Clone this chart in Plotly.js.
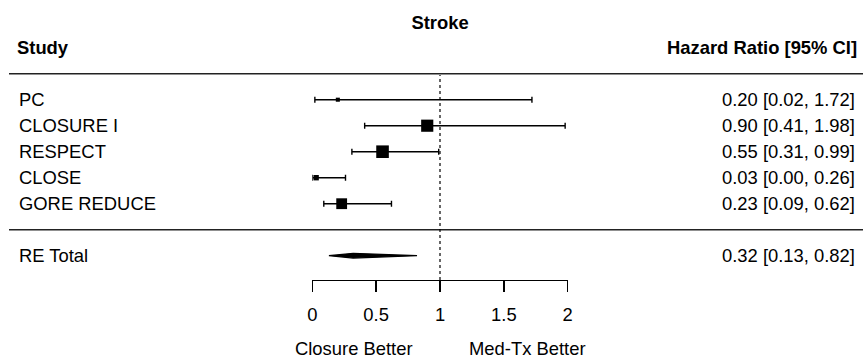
<!DOCTYPE html>
<html>
<head>
<meta charset="utf-8">
<script src="https://cdn.plot.ly/plotly-3.0.1.min.js"></script>
<style>html,body{margin:0;padding:0;background:#fff;}#chart{width:863px;height:359px;}</style>
</head>
<body>
<div id="chart"></div>
<script>
// ---- data ----
const chartTitle = 'Stroke';
const studies = ['PC', 'CLOSURE I', 'RESPECT', 'CLOSE', 'GORE REDUCE'];
const hr = [0.20, 0.90, 0.55, 0.03, 0.23];
const lower = [0.02, 0.41, 0.31, 0.00, 0.09];
const upper = [1.72, 1.98, 0.99, 0.26, 0.62];
const boxWeight = [9, 27, 28, 12, 24];
const totalLabel = 'RE Total';
const totalHR = [0.32];
const totalLower = [0.13];
const totalUpper = [0.82];
const tickVals = [0, 0.5, 1, 1.5, 2];
const tickText = ['0', '0.5', '1', '1.5', '2'];
const leftHeader = 'Study';
const rightHeader = 'Hazard Ratio [95% CI]';
const leftFavour = 'Closure Better';
const rightFavour = 'Med-Tx Better';

// ---- layout helpers ----
const W = 863, H = 359;
const FONT = 'Liberation Sans, Arial, Helvetica, sans-serif';
const FS = 18.4;
const px = p => p / W;
const py = p => 1 - p / H;
const rowPx = 26, firstRowPx = 99.7, n = studies.length;
const yTop = n + firstRowPx / rowPx;
const yBot = n - (H - firstRowPx) / rowPx;
const ys = studies.map((s, i) => n - i);
const yTotal = -1;
const fmt = v => v.toFixed(2);

const traces = [
  {
    type: 'scatter', mode: 'markers', x: hr, y: ys,
    cliponaxis: false, hoverinfo: 'skip',
    marker: { symbol: 'square', color: '#000', opacity: 1, size: boxWeight.map(w => w * 0.45), line: { width: 0 } },
    error_x: {
      type: 'data', symmetric: false,
      array: hr.map((v, i) => upper[i] - v),
      arrayminus: hr.map((v, i) => v - lower[i]),
      color: '#000', thickness: 1.4, width: 3
    }
  },
  {
    type: 'scatter', mode: 'lines', cliponaxis: false, hoverinfo: 'skip',
    x: [totalLower[0], totalHR[0], totalUpper[0], totalHR[0], totalLower[0]],
    y: [yTotal, yTotal + 0.09, yTotal, yTotal - 0.09, yTotal],
    fill: 'toself', fillcolor: '#000', line: { color: '#000', width: 1.2 }
  }
];

const ann = [];
const txt = (text, x, y, xanchor, yref, extra) => Object.assign({
  text, x, y, xref: 'paper', yref, xanchor, yanchor: 'middle', showarrow: false,
  borderpad: 0, borderwidth: 0, font: { family: FONT, size: FS, color: '#000' }
}, extra || {});
studies.forEach((s, i) => {
  ann.push(txt(s, px(18.5), ys[i], 'left', 'y'));
  ann.push(txt(`${fmt(hr[i])} [${fmt(lower[i])}, ${fmt(upper[i])}]`, px(855), ys[i], 'right', 'y'));
});
ann.push(txt(totalLabel, px(18.5), yTotal, 'left', 'y'));
ann.push(txt(`${fmt(totalHR[0])} [${fmt(totalLower[0])}, ${fmt(totalUpper[0])}]`, px(855), yTotal, 'right', 'y'));
ann.push(txt('<b>' + leftHeader + '</b>', px(16.8), py(47), 'left', 'paper'));
ann.push(txt('<b>' + rightHeader + '</b>', px(857), py(47), 'right', 'paper'));
ann.push(txt(leftFavour, px(353.8), py(348.5), 'center', 'paper'));
ann.push(txt(rightFavour, px(527.5), py(348.5), 'center', 'paper'));

const shapes = [
  { type: 'line', xref: 'paper', yref: 'y', x0: px(9), x1: 1, y0: n + 1, y1: n + 1, line: { color: '#222', width: 1.4 } },
  { type: 'line', xref: 'paper', yref: 'y', x0: px(9), x1: 1, y0: 0, y1: 0, line: { color: '#222', width: 1.4 } },
  { type: 'line', xref: 'x', yref: 'paper', x0: 1, x1: 1, y0: py(280), y1: py(75), line: { color: '#000', width: 1.2, dash: 'dot' } }
];

const layout = {
  width: W, height: H,
  margin: { l: 0, r: 0, t: 0, b: 0, pad: 0 },
  paper_bgcolor: '#fff', plot_bgcolor: '#fff',
  showlegend: false,
  font: { family: FONT, size: FS, color: '#000' },
  title: {
    text: '<b>' + chartTitle + '</b>', x: px(440), y: py(22.5), xref: 'paper', yref: 'paper',
    xanchor: 'center', yanchor: 'middle', font: { family: FONT, size: FS, color: '#000' }
  },
  xaxis: {
    domain: [px(312.3), px(567.7)], range: [0, 2], anchor: 'free', position: py(280),
    tickvals: tickVals, ticktext: tickText, ticks: 'outside', ticklen: 11, tickwidth: 1.3, tickcolor: '#000',
    showline: true, linecolor: '#000', linewidth: 1.3, showgrid: false, zeroline: false,
    tickfont: { family: FONT, size: FS, color: '#000' }, ticklabelstandoff: 7, fixedrange: true
  },
  yaxis: { domain: [0, 1], range: [yBot, yTop], visible: false, fixedrange: true },
  annotations: ann,
  shapes: shapes
};

Plotly.newPlot('chart', traces, layout, { staticPlot: true, displayModeBar: false });
</script>
</body>
</html>
